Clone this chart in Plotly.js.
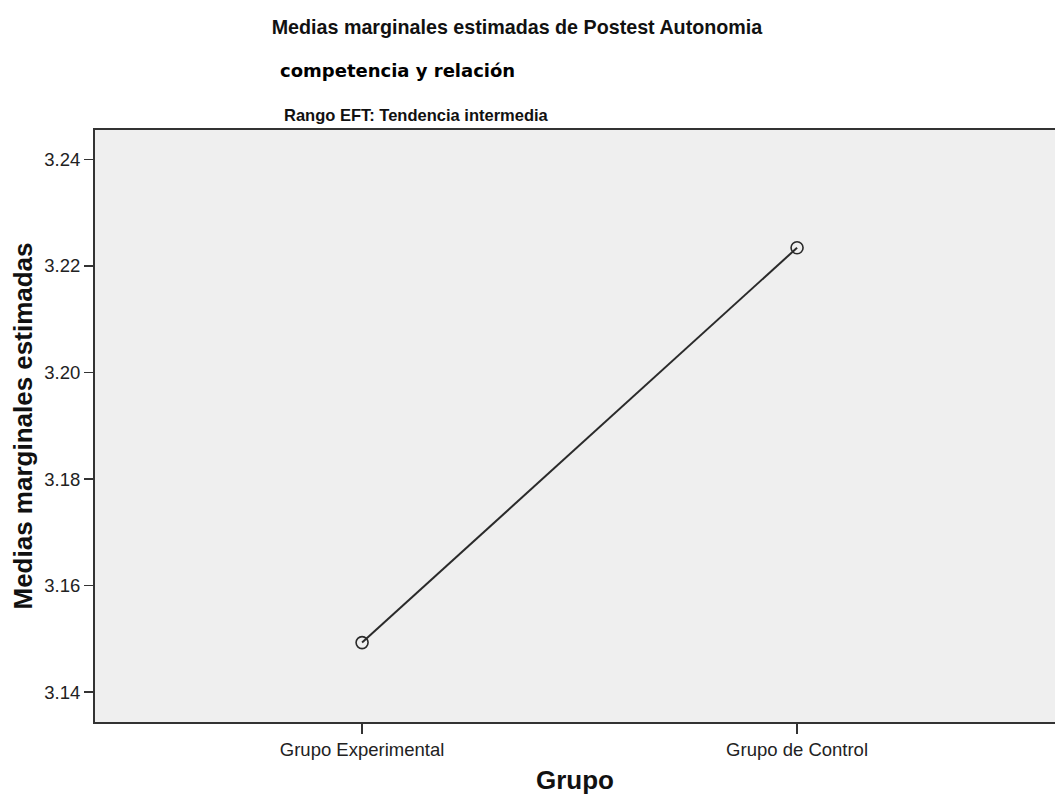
<!DOCTYPE html>
<html>
<head>
<meta charset="utf-8">
<script src="https://cdn.plot.ly/plotly-3.0.1.min.js"></script>
<style>html,body{margin:0;padding:0;background:#fff;}#chart{width:1055px;height:798px;}</style>
</head>
<body>
<div id="chart"></div>
<script>
const categories = ["Grupo Experimental", "Grupo de Control"];
const means = [3.1493, 3.2234];
const yTicks = [3.14, 3.16, 3.18, 3.20, 3.22, 3.24];
const yTickLabels = ["3.14", "3.16", "3.18", "3.20", "3.22", "3.24"];

const trace = {
  x: categories,
  y: means,
  type: "scatter",
  mode: "lines+markers",
  line: {color: "#2a2a2a", width: 2},
  marker: {symbol: "circle-open", size: 12, color: "#2a2a2a", line: {width: 1.6, color: "#2a2a2a"}},
  hoverinfo: "x+y",
  showlegend: false
};

const layout = {
  width: 1055,
  height: 798,
  margin: {l: 95, r: 0, t: 130, b: 76},
  paper_bgcolor: "#ffffff",
  plot_bgcolor: "#efefef",
  font: {family: "Liberation Sans, Arial, sans-serif", color: "#222"},
  title: {
    text: "<b>Medias marginales estimadas de Postest Autonomia</b>",
    font: {family: "Liberation Sans, Arial, sans-serif", size: 19.7, color: "#111"},
    x: 0.49, xanchor: "center", xref: "container",
    y: 0.966, yanchor: "middle", yref: "container"
  },
  xaxis: {
    type: "category",
    range: [-0.614, 1.593],
    showgrid: false,
    zeroline: false,
    showline: true,
    linecolor: "#333",
    linewidth: 2,
    mirror: true,
    ticks: "outside",
    ticklen: 10,
    tickwidth: 1.5,
    tickcolor: "#333",
    tickfont: {size: 18.5, color: "#222"},
    title: {text: "<b>Grupo</b>", font: {size: 26, color: "#111"}, standoff: 12}
  },
  yaxis: {
    range: [3.1344, 3.2455],
    tickvals: yTicks,
    ticktext: yTickLabels,
    showgrid: false,
    zeroline: false,
    showline: true,
    linecolor: "#333",
    linewidth: 2,
    ticks: "outside",
    ticklen: 9,
    tickwidth: 1.5,
    tickcolor: "#333",
    tickfont: {size: 18.5, color: "#222"},
    title: {text: "<b>Medias marginales estimadas</b>", font: {size: 26, color: "#111"}, standoff: 4}
  },
  annotations: [
    {
      text: "<b>competencia y relación</b>",
      xref: "paper", yref: "paper",
      x: 0.315, y: 1.101, xanchor: "center", yanchor: "middle",
      showarrow: false,
      font: {family: "DejaVu Sans, sans-serif", size: 18, color: "#000"}
    },
    {
      text: "<b>Rango EFT: Tendencia intermedia</b>",
      xref: "paper", yref: "paper",
      x: 0.335, y: 1.025, xanchor: "center", yanchor: "middle",
      showarrow: false,
      font: {family: "Liberation Sans, Arial, sans-serif", size: 16.5, color: "#111"}
    }
  ]
};

Plotly.newPlot("chart", [trace], layout, {displayModeBar: false, staticPlot: true});
</script>
</body>
</html>
